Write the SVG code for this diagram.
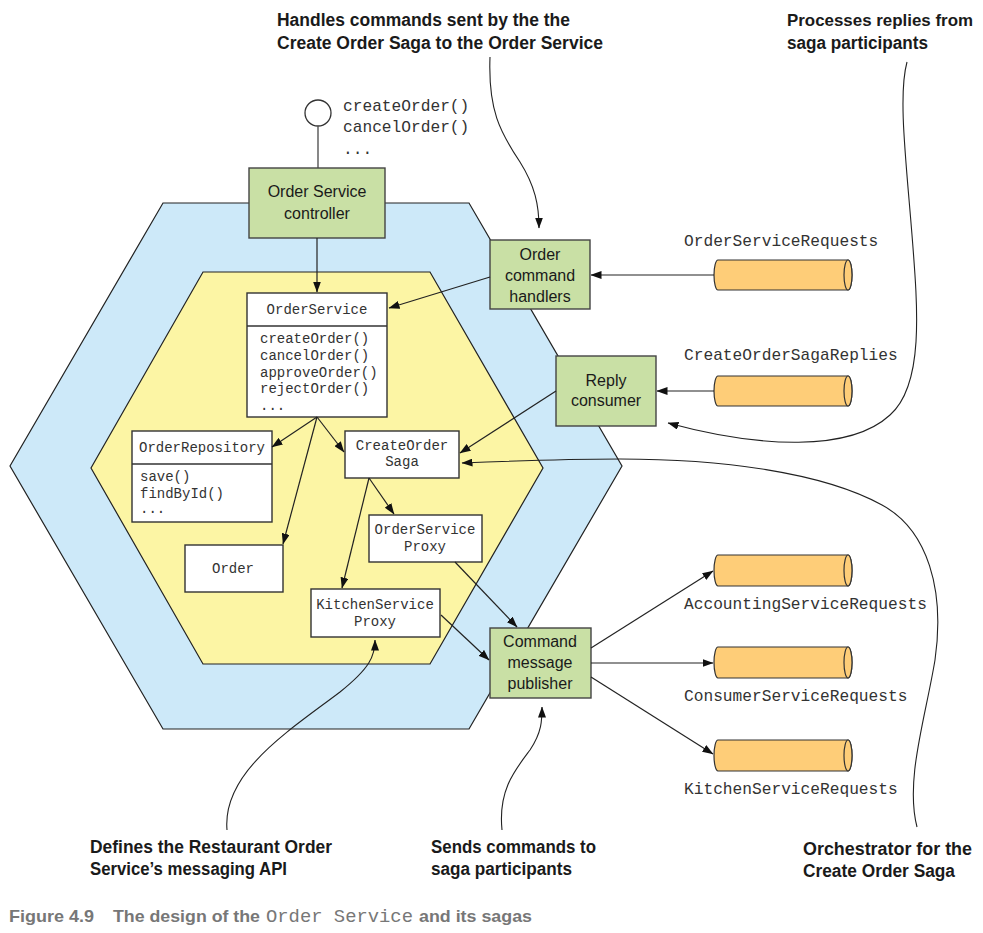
<svg xmlns="http://www.w3.org/2000/svg" width="983" height="933" viewBox="0 0 983 933">
<style>
.hex{stroke:#222;stroke-width:1.2}
.green{fill:#c9e0a5;stroke:#444;stroke-width:1.4}
.white{fill:#fff;stroke:#333;stroke-width:1.4}
.cyl{fill:#fecd78;stroke:#333;stroke-width:1.2}
.lbl{font-family:"Liberation Sans",Arial,sans-serif;font-size:16px;fill:#1a1a1a;text-anchor:middle}
.mono{font-family:"Liberation Mono","Courier New",monospace;font-size:14px;fill:#333}
.mono16{font-family:"Liberation Mono","Courier New",monospace;font-size:16.2px;fill:#333}
.c{text-anchor:middle}
.ann{font-family:"Liberation Sans",Arial,sans-serif;font-weight:bold;font-size:18px;fill:#1a1a1a}
.cap{font-family:"Liberation Sans",Arial,sans-serif;font-weight:bold;font-size:17px;fill:#777}
.capm{font-family:"Liberation Mono","Courier New",monospace;font-size:18px;fill:#777}
.ln{fill:none;stroke:#222;stroke-width:1.2}
.cv{fill:none;stroke:#222;stroke-width:1.1}
</style>
<defs>
<marker id="ah" markerWidth="11" markerHeight="8" refX="10.5" refY="4" orient="auto" markerUnits="userSpaceOnUse">
<path d="M0,0 L11,4 L0,8 z" fill="#111"/>
</marker>
</defs>
<rect width="983" height="933" fill="#fff"/>

<g id="outer-hexagon"><polygon class="hex" fill="#cde9f9" points="163,203 469,203 622,466 469,729 163,729 10,466"/></g>
<g id="inner-hexagon"><polygon class="hex" fill="#fcf5a4" points="203,272 430,272 543,468 430,664 203,664 91,468"/></g>

<g id="api-port">
<circle cx="318" cy="113" r="13" fill="#fff" stroke="#333" stroke-width="1.3"/>
<line x1="318" y1="126" x2="318" y2="168" stroke="#555" stroke-width="1.4"/>
<text class="mono16" x="343" y="111">createOrder()</text>
<text class="mono16" x="343" y="132">cancelOrder()</text>
<text class="mono16" x="343" y="154">...</text>
</g>

<g id="controller">
<rect class="green" x="249" y="168" width="136" height="70"/>
<text class="lbl" x="317" y="197">Order Service</text>
<text class="lbl" x="317" y="219">controller</text>
</g>

<g id="order-command-handlers">
<rect class="green" x="490" y="240" width="100" height="69"/>
<text class="lbl" x="540" y="260">Order</text>
<text class="lbl" x="540" y="281">command</text>
<text class="lbl" x="540" y="302">handlers</text>
</g>

<g id="reply-consumer">
<rect class="green" x="556" y="356" width="100" height="70"/>
<text class="lbl" x="606" y="386">Reply</text>
<text class="lbl" x="606" y="406">consumer</text>
</g>

<g id="command-message-publisher">
<rect class="green" x="490" y="628" width="101" height="70"/>
<text class="lbl" x="540" y="647">Command</text>
<text class="lbl" x="540" y="668">message</text>
<text class="lbl" x="540" y="689">publisher</text>
</g>

<g id="order-service">
<rect class="white" x="247" y="293" width="140" height="124"/>
<line x1="247" y1="326" x2="387" y2="326" stroke="#333" stroke-width="1.4"/>
<text class="mono c" x="317" y="314">OrderService</text>
<text class="mono" x="260" y="343">createOrder()</text>
<text class="mono" x="260" y="360">cancelOrder()</text>
<text class="mono" x="260" y="377">approveOrder()</text>
<text class="mono" x="260" y="393">rejectOrder()</text>
<text class="mono" x="260" y="410">...</text>
</g>

<g id="order-repository">
<rect class="white" x="132" y="431" width="140" height="91"/>
<line x1="132" y1="464" x2="272" y2="464" stroke="#333" stroke-width="1.4"/>
<text class="mono c" x="202" y="452">OrderRepository</text>
<text class="mono" x="140" y="481">save()</text>
<text class="mono" x="140" y="498">findById()</text>
<text class="mono" x="140" y="513">...</text>
</g>

<g id="order">
<rect class="white" x="185" y="545" width="98" height="47"/>
<text class="mono c" x="233" y="573">Order</text>
</g>

<g id="create-order-saga">
<rect class="white" x="345" y="431" width="114" height="47"/>
<text class="mono c" x="402" y="450">CreateOrder</text>
<text class="mono c" x="402" y="466">Saga</text>
</g>

<g id="order-service-proxy">
<rect class="white" x="369" y="515" width="113" height="47"/>
<text class="mono c" x="425" y="534">OrderService</text>
<text class="mono c" x="425" y="551">Proxy</text>
</g>

<g id="kitchen-service-proxy">
<rect class="white" x="311" y="589" width="129" height="48"/>
<text class="mono c" x="375" y="609">KitchenService</text>
<text class="mono c" x="375" y="626">Proxy</text>
</g>

<g id="channel-order-service-requests">
<path class="cyl" d="M718 260 H848 A4 15 0 0 1 848 290 H718 A4 15 0 0 1 718 260 Z"/>
<ellipse class="cyl" cx="848" cy="275" rx="4" ry="15"/>
<text class="mono16" x="684" y="246">OrderServiceRequests</text>
</g>
<g id="channel-create-order-saga-replies">
<path class="cyl" d="M718 376 H848 A4 15 0 0 1 848 406 H718 A4 15 0 0 1 718 376 Z"/>
<ellipse class="cyl" cx="848" cy="391" rx="4" ry="15"/>
<text class="mono16" x="684" y="360">CreateOrderSagaReplies</text>
</g>
<g id="channel-accounting-service-requests">
<path class="cyl" d="M718 555 H848 A4 15.5 0 0 1 848 586 H718 A4 15.5 0 0 1 718 555 Z"/>
<ellipse class="cyl" cx="848" cy="570.5" rx="4" ry="15.5"/>
<text class="mono16" x="684" y="609">AccountingServiceRequests</text>
</g>
<g id="channel-consumer-service-requests">
<path class="cyl" d="M718 647 H848 A4 15.5 0 0 1 848 678 H718 A4 15.5 0 0 1 718 647 Z"/>
<ellipse class="cyl" cx="848" cy="662.5" rx="4" ry="15.5"/>
<text class="mono16" x="684" y="701">ConsumerServiceRequests</text>
</g>
<g id="channel-kitchen-service-requests">
<path class="cyl" d="M718 740 H848 A4 15.5 0 0 1 848 771 H718 A4 15.5 0 0 1 718 740 Z"/>
<ellipse class="cyl" cx="848" cy="755.5" rx="4" ry="15.5"/>
<text class="mono16" x="684" y="794">KitchenServiceRequests</text>
</g>

<g id="connectors">
<line class="ln" x1="317" y1="238" x2="317" y2="292" marker-end="url(#ah)"/>
<line class="ln" x1="714" y1="275" x2="591" y2="275" marker-end="url(#ah)"/>
<line class="ln" x1="714" y1="391" x2="657" y2="391" marker-end="url(#ah)"/>
<line class="ln" x1="490" y1="277" x2="389" y2="308" marker-end="url(#ah)"/>
<line class="ln" x1="556" y1="391" x2="460" y2="453" marker-end="url(#ah)"/>
<line class="ln" x1="317" y1="417" x2="272" y2="447" marker-end="url(#ah)"/>
<line class="ln" x1="317" y1="417" x2="344" y2="452" marker-end="url(#ah)"/>
<line class="ln" x1="317" y1="417" x2="283" y2="544" marker-end="url(#ah)"/>
<line class="ln" x1="369" y1="478" x2="394" y2="514" marker-end="url(#ah)"/>
<line class="ln" x1="369" y1="478" x2="342" y2="588" marker-end="url(#ah)"/>
<line class="ln" x1="455" y1="562" x2="517" y2="627" marker-end="url(#ah)"/>
<line class="ln" x1="441" y1="615" x2="489" y2="660" marker-end="url(#ah)"/>
<line class="ln" x1="591" y1="648" x2="713" y2="571" marker-end="url(#ah)"/>
<line class="ln" x1="591" y1="663" x2="713" y2="663" marker-end="url(#ah)"/>
<line class="ln" x1="591" y1="677" x2="713" y2="754" marker-end="url(#ah)"/>
<path class="cv" d="M490 57 C488 110 500 132 520 162 C535 186 539 205 539 228" marker-end="url(#ah)"/>
<path class="cv" d="M907 62 C898 95 906 160 912 235 C918 310 924 385 890 415 C850 452 760 448 668 423" marker-end="url(#ah)"/>
<path class="cv" d="M917 827 C905 780 925 720 935 660 C945 590 928 530 882 505 C822 472 720 459 620 459 C560 459 510 461 462 463" marker-end="url(#ah)"/>
<path class="cv" d="M227 830 C222 772 290 730 340 692 C370 668 375 656 375 640" marker-end="url(#ah)"/>
<path class="cv" d="M502 830 C498 790 515 770 530 750 C542 732 542 720 542 707" marker-end="url(#ah)"/>
</g>

<g id="annotations">
<text class="ann" x="277" y="26" textLength="293" lengthAdjust="spacingAndGlyphs">Handles commands sent by the the</text>
<text class="ann" x="277" y="49" textLength="326" lengthAdjust="spacingAndGlyphs">Create Order Saga to the Order Service</text>
<text class="ann" x="787" y="26" style="font-size:16.5px" textLength="186" lengthAdjust="spacingAndGlyphs">Processes replies from</text>
<text class="ann" x="787" y="49" textLength="141" lengthAdjust="spacingAndGlyphs">saga participants</text>
<text class="ann" x="90" y="853" textLength="242" lengthAdjust="spacingAndGlyphs">Defines the Restaurant Order</text>
<text class="ann" x="90" y="875" textLength="197" lengthAdjust="spacingAndGlyphs">Service’s messaging API</text>
<text class="ann" x="431" y="853" textLength="165" lengthAdjust="spacingAndGlyphs">Sends commands to</text>
<text class="ann" x="431" y="875" textLength="141" lengthAdjust="spacingAndGlyphs">saga participants</text>
<text class="ann" x="803" y="855" textLength="169" lengthAdjust="spacingAndGlyphs">Orchestrator for the</text>
<text class="ann" x="803" y="877" textLength="152" lengthAdjust="spacingAndGlyphs">Create Order Saga</text>
</g>

<g id="caption">
<text class="cap" x="9" y="922" textLength="85" lengthAdjust="spacingAndGlyphs">Figure 4.9</text>
<text class="cap" x="113" y="922" textLength="147" lengthAdjust="spacingAndGlyphs">The design of the</text>
<text class="capm" x="266" y="922" textLength="147" lengthAdjust="spacingAndGlyphs">Order Service</text>
<text class="cap" x="419" y="922" textLength="113" lengthAdjust="spacingAndGlyphs">and its sagas</text>
</g>
</svg>
